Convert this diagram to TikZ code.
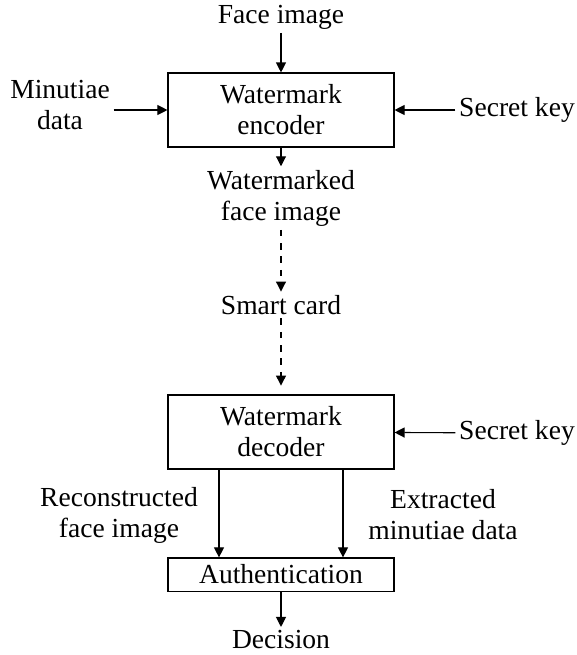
\documentclass[tikz,border=0pt]{standalone}
\usepackage{fontspec}
\setmainfont{Liberation Serif}
\usetikzlibrary{arrows.meta}

\begin{document}
\begin{tikzpicture}[x=0.45pt, y=-0.45pt, font=\fontsize{12.4pt}{13.9pt}\selectfont,
    block/.style={rectangle, draw, line width=0.5pt, minimum width=101.7pt, align=center, inner sep=0pt},
    txt/.style={align=center, inner sep=1.5pt},
    flow/.style={line width=0.5pt, -{Triangle[length=4.5pt, width=4.5pt]}}]
                \useasboundingbox (0,0) rectangle (577,655);

                \node[txt] (face) at (281,17) {Face image};
                \node[block, minimum height=33.3pt] (enc) at (281,110) {Watermark\\encoder};
                \node[txt] (minutiae) at (60,105) {Minutiae\\data};
                \node[txt] (key1) at (517,110) {Secret key};
                \node[txt] (wm) at (281,198) {Watermarked\\face image};
                \node[txt] (card) at (281,305) {Smart card};
                \node[block, minimum height=33.3pt] (dec) at (281,432) {Watermark\\decoder};
                \node[txt] (key2) at (517,433) {Secret key};
                \node[txt] (recon) at (119,515) {Reconstructed\\face image};
                \node[txt] (extr) at (443,515) {Extracted\\minutiae data};
                \node[block, minimum height=14.9pt] (auth) at (281,574.5) {Authentication};
                \node[txt] (decision) at (281,640) {Decision};

                \draw[flow] (face) -- (enc);
                \draw[flow] (minutiae.east |- enc) -- (enc);
                \draw[flow] (key1) -- (enc);
                \draw[flow] (enc) -- (wm);
                \draw[flow, dashed] (wm) -- (card);
                \draw[flow, dashed, shorten >=4pt] (card) -- (dec);
                \draw[flow] (key2) -- (dec);
                \draw[flow] ([xshift=-27.9pt]dec.south) -- ([xshift=-27.9pt]auth.north);
                \draw[flow] ([xshift=27.9pt]dec.south) -- ([xshift=27.9pt]auth.north);
                \draw[flow] (auth) -- (decision);
            \end{tikzpicture}
\end{document}
